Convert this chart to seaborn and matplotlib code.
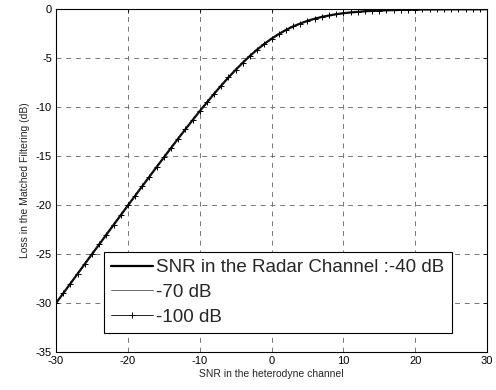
import pandas as pd
import matplotlib
matplotlib.use("Agg")
import matplotlib.pyplot as plt
import seaborn as sns

# SNR in the heterodyne channel (dB)
snr_het = [-30, -29, -28, -27, -26, -25, -24, -23, -22, -21,
           -20, -19, -18, -17, -16, -15, -14, -13, -12, -11,
           -10, -9, -8, -7, -6, -5, -4, -3, -2, -1,
           0, 1, 2, 3, 4, 5, 6, 7, 8, 9,
           10, 11, 12, 13, 14, 15, 16, 17, 18, 19,
           20, 21, 22, 23, 24, 25, 26, 27, 28, 29, 30]

# loss in the matched filtering (dB)
loss_40 = [-30.00, -29.01, -28.01, -27.01, -26.01, -25.01, -24.02, -23.02, -22.03, -21.03,
           -20.04, -19.05, -18.07, -17.09, -16.11, -15.14, -14.17, -13.21, -12.27, -11.33,
           -10.41, -9.52, -8.64, -7.79, -6.97, -6.19, -5.46, -4.76, -4.12, -3.54,
           -3.01, -2.54, -2.12, -1.76, -1.46, -1.19, -0.97, -0.79, -0.64, -0.51,
           -0.41, -0.33, -0.27, -0.21, -0.17, -0.14, -0.11, -0.09, -0.07, -0.05,
           -0.04, -0.03, -0.03, -0.02, -0.02, -0.01, -0.01, -0.01, -0.01, -0.01, 0.00]
loss_70 = list(loss_40)
loss_100 = list(loss_40)

labels = ["SNR in the Radar Channel :-40 dB", "-70 dB", "-100 dB"]

sns.set_theme(style="white")
plt.rcParams["font.family"] = ["Liberation Sans", "DejaVu Sans"]
plt.rcParams["axes.unicode_minus"] = False
plt.rcParams["xtick.direction"] = "in"
plt.rcParams["ytick.direction"] = "in"

fig = plt.figure(figsize=(4.96, 3.9), dpi=100)
ax = fig.add_axes([0.113, 0.0974, 0.869, 0.879])

sns.lineplot(x=snr_het, y=loss_40, ax=ax, color="black", linewidth=1.6, label=labels[0])
sns.lineplot(x=snr_het, y=loss_70, ax=ax, color="#555555", linewidth=0.6, label=labels[1])
sns.lineplot(x=snr_het, y=loss_100, ax=ax, color="black", linewidth=0.6, marker="+",
             markersize=5, markeredgewidth=0.7, markeredgecolor="black", label=labels[2])

ax.set_xlim(-30, 30)
ax.set_ylim(-35, 0)
ax.set_xticks([-30, -20, -10, 0, 10, 20, 30])
ax.set_yticks([-35, -30, -25, -20, -15, -10, -5, 0])
ax.tick_params(labelsize=8, colors="black", length=3, width=0.6,
               top=True, right=True, pad=3)
ax.grid(True, color="#777777", linestyle=(0, (5, 5)), linewidth=0.7)
for s in ax.spines.values():
    s.set_color("black")
    s.set_linewidth(0.8)

ax.set_xlabel("SNR in the heterodyne channel", fontsize=7.5, labelpad=2)
ax.set_ylabel("Loss in the Matched Filtering (dB)", fontsize=7.5, labelpad=4)

leg = ax.legend(loc="lower left", bbox_to_anchor=(0.111, 0.055), fontsize=13.5,
                frameon=True, fancybox=False, handlelength=2.2, handletextpad=0.2,
                labelspacing=0.4, borderpad=0.4, borderaxespad=0)
leg.get_frame().set_edgecolor("black")
leg.get_frame().set_linewidth(0.8)
leg.get_frame().set_alpha(1)

fig.savefig("out.png", dpi=100)
